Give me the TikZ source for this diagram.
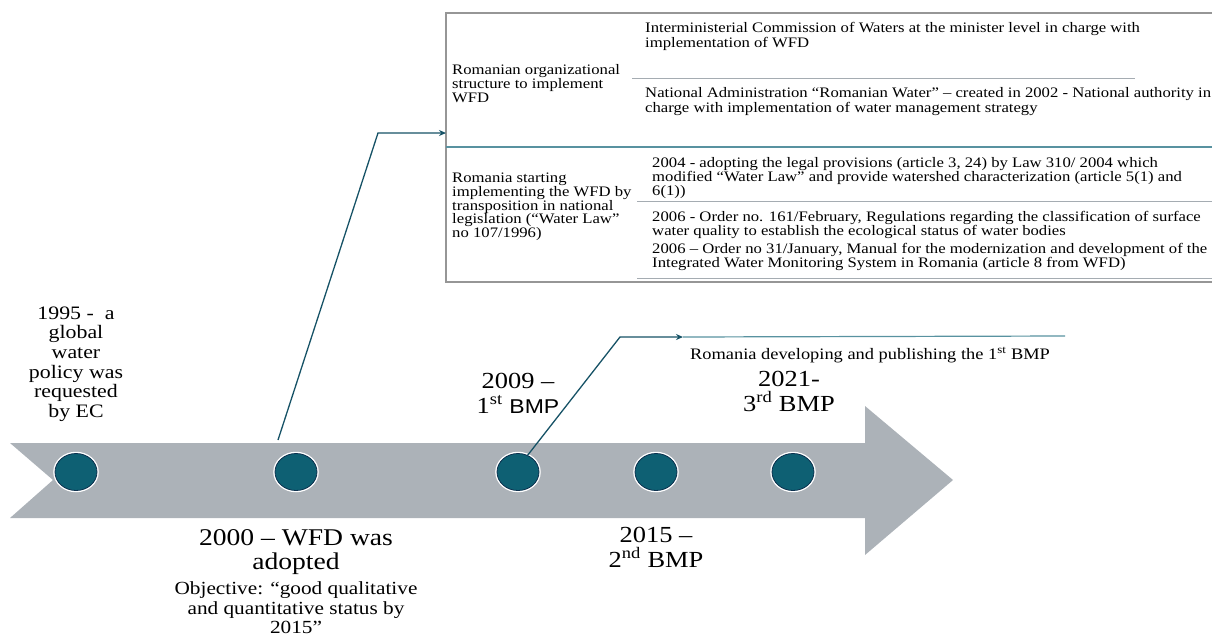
\documentclass[tikz,border=0pt]{standalone}
\usepackage{fontspec}
\setmainfont{Liberation Serif}
\newfontfamily\sansbmp{Liberation Sans}
\usepackage{xcolor}
\usetikzlibrary{arrows.meta,shapes.geometric}

\definecolor{bandgray}{RGB}{172,178,184}
\definecolor{dotteal}{RGB}{14,96,115}
\definecolor{dotrim}{RGB}{12,48,78}
\definecolor{linkteal}{RGB}{22,82,102}
\definecolor{ruleteal}{RGB}{88,146,160}
\definecolor{framegray}{RGB}{150,150,150}
\definecolor{rulegray}{RGB}{165,172,178}

\begin{document}
\begin{tikzpicture}[x=1pt, y=-1pt, >={Stealth[length=7pt,width=6pt]},
  lbl/.style={align=center, inner sep=0pt, xscale=1.15, transform shape},
  cell/.style={align=left, anchor=north west, inner sep=0pt, xscale=1.15, transform shape, font=\fontsize{14.5}{14}\selectfont},
  dot/.style={ellipse, minimum width=42pt, minimum height=37pt, inner sep=0pt, fill=dotteal, draw=dotrim, line width=0.8pt, preaction={draw=white, line width=3.5pt}},
  link/.style={->, draw=linkteal, line width=1.3pt}]
\useasboundingbox (0,0) rectangle (1212,638);

% timeline band
\fill[bandgray] (10,443) -- (865,443) -- (865,406) -- (953,480) -- (865,555) -- (865,518) -- (10,518) -- (53,480) -- cycle;
\foreach \n/\x in {1/76, 2/296, 3/518, 4/656, 5/793}
  \node[dot] (m\n) at (\x,472) {};

% milestone labels
\node[lbl, font=\fontsize{19}{19.6}\selectfont] (t1995) at (76,364) {1995 -\ \ a\\global\\water\\policy was\\requested\\by EC};
\node[lbl, font=\fontsize{24}{23.5}\selectfont] (t2000) at (296,552) {2000 – WFD was\\adopted};
\node[lbl, font=\fontsize{18.5}{19.5}\selectfont] (tobj) at (296,608) {Objective: “good qualitative\\and quantitative status by\\2015”};
\node[lbl, font=\fontsize{23}{25}\selectfont] (t2009) at (518,393) {2009 –\\1\textsuperscript{st} {\sansbmp\fontsize{20}{25}\selectfont BMP}};
\node[lbl, font=\fontsize{23}{25}\selectfont] (t2015) at (656,547) {2015 –\\2\textsuperscript{nd} BMP};
\node[lbl, font=\fontsize{23}{25}\selectfont] (t2021) at (789,391) {2021-\\3\textsuperscript{rd} BMP};
\node[lbl, font=\fontsize{16}{16}\selectfont] (tbmp) at (870,355) {Romania developing and publishing the 1\textsuperscript{st} BMP};

% table
\draw[framegray, line width=1.4pt] (1215,13) -- (446,13) -- (446,282) -- (1215,282);
\draw[rulegray, line width=1pt] (632,78) -- (1135,78);
\draw[ruleteal, line width=1.5pt] (446,147) -- (1215,147);
\draw[rulegray, line width=1pt] (637,201) -- (1215,201);
\draw[rulegray, line width=1pt] (637,278) -- (1215,278);

\node[cell, font=\fontsize{14.5}{12.5}\selectfont] (org) at (452,64) {Romanian organizational\\structure to implement\\WFD};
\node[cell, font=\fontsize{14.5}{13.7}\selectfont] (law) at (452,173) {Romania starting\\implementing the WFD by\\transposition in national\\legislation (“Water Law”\\no 107/1996)};
\node[cell, font=\fontsize{14.5}{15}\selectfont] (icw) at (645,22) {Interministerial Commission of Waters at the minister level in charge with\\implementation of WFD};
\node[cell, font=\fontsize{14.5}{15}\selectfont] (nar) at (645,87) {National Administration “Romanian Water” – created in 2002 - National authority in\\charge with implementation of water management strategy};
\node[cell] (y2004) at (652,157) {2004 - adopting the legal provisions (article 3, 24) by Law 310/ 2004 which\\modified “Water Law” and provide watershed characterization (article 5(1) and\\6(1))};
\node[cell] (y2006a) at (652,211) {2006 - Order no. 161/February, Regulations regarding the classification of surface\\water quality to establish the ecological status of water bodies};
\node[cell] (y2006b) at (652,243) {2006 – Order no 31/January, Manual for the modernization and development of the\\Integrated Water Monitoring System in Romania (article 8 from WFD)};

% connectors
\coordinate (a1) at (278,440);
\coordinate (tin) at (446,133);
\draw[link] (a1) -- ++(100,-307) -- (tin);
\coordinate (bmpin) at (683,337);
\draw[link] (m3.60) -- (620,337) -- (bmpin);
\draw[ruleteal, line width=1.2pt] (bmpin) -- (1065,336);
\end{tikzpicture}
\end{document}
